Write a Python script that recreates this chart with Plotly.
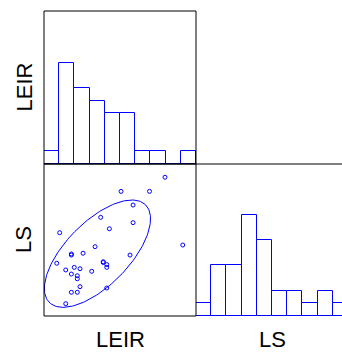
import numpy as np
import plotly.graph_objects as go

# ---- data ----
var_names = ["LEIR", "LS"]
bin_edges = [0, 1, 2, 3, 4, 5, 6, 7, 8, 9, 10]
leir_counts = [1, 8, 6, 5, 4, 4, 1, 1, 0, 1]
ls_counts = [1, 4, 4, 8, 6, 2, 2, 1, 2, 1]

leir = [7.96, 5.07, 6.94, 5.86, 3.73, 5.86, 4.30, 1.03, 9.13, 3.36, 2.57,
        1.80, 1.80, 5.66, 0.84, 3.90, 3.90, 4.13, 4.13, 1.99, 2.37, 1.43,
        3.14, 1.80, 2.19, 2.19, 2.37, 4.13, 1.80, 2.19, 1.43]
ls = [9.13, 8.20, 8.20, 7.30, 6.49, 6.14, 5.74, 5.48, 4.67, 4.56, 4.13,
      4.08, 4.01, 4.01, 3.47, 3.57, 3.52, 3.38, 3.20, 3.20, 3.11, 3.03,
      2.94, 2.76, 2.65, 2.45, 1.93, 1.84, 1.56, 1.56, 0.81]
ellipse_scale = 1.69  # multiples of the covariance (Mahalanobis radius)

BLUE = "#0000ff"
W, H = 342, 352

def px(x):
    return x / W

def py(y):
    return 1 - y / H

# panel geometry (pixels)
L, M, R = 44, 196, 348
T, MID, B = 11, 164, 316

centers = [(bin_edges[i] + bin_edges[i + 1]) / 2 for i in range(len(bin_edges) - 1)]
widths = [bin_edges[i + 1] - bin_edges[i] for i in range(len(bin_edges) - 1)]

fig = go.Figure()

fig.add_trace(go.Bar(x=centers, y=leir_counts, width=widths,
                     marker=dict(color="white", line=dict(color=BLUE, width=1)),
                     xaxis="x", yaxis="y", showlegend=False))

fig.add_trace(go.Scatter(x=leir, y=ls, mode="markers",
                         marker=dict(symbol="circle-open", size=4, color=BLUE,
                                     line=dict(width=1, color=BLUE)),
                         xaxis="x2", yaxis="y2", showlegend=False))

# covariance ellipse from the data
xa = np.array(leir)
ya = np.array(ls)
cov = np.cov(xa, ya)
vals, vecs = np.linalg.eigh(cov)
t = np.linspace(0, 2 * np.pi, 200)
circ = np.vstack([np.cos(t), np.sin(t)])
ell = vecs @ (np.sqrt(vals)[:, None] * circ) * ellipse_scale
fig.add_trace(go.Scatter(x=xa.mean() + ell[0], y=ya.mean() + ell[1], mode="lines",
                         line=dict(color=BLUE, width=1),
                         xaxis="x2", yaxis="y2", showlegend=False))

fig.add_trace(go.Bar(x=centers, y=ls_counts, width=widths,
                     marker=dict(color="white", line=dict(color=BLUE, width=1)),
                     xaxis="x3", yaxis="y3", showlegend=False))

hidden = dict(showgrid=False, zeroline=False, showticklabels=False, ticks="",
              showline=False, fixedrange=True)

vis_frac = (W - M) / (R - M)
fig.update_layout(
    width=W, height=H,
    margin=dict(l=0, r=0, t=0, b=0),
    paper_bgcolor="white", plot_bgcolor="rgba(0,0,0,0)",
    bargap=0,
    xaxis=dict(domain=[px(L), px(M)], range=[0, 10], anchor="y", **hidden),
    yaxis=dict(domain=[py(MID), py(T)], range=[0, 12.1], anchor="x", **hidden),
    xaxis2=dict(domain=[px(L), px(M)], range=[0, 10], anchor="y2", **hidden),
    yaxis2=dict(domain=[py(B), py(MID)], range=[0, 10], anchor="x2", **hidden),
    xaxis3=dict(domain=[px(M), 1], range=[0, 10 * vis_frac], anchor="y3", **hidden),
    yaxis3=dict(domain=[py(B), py(MID)], range=[0, 12], anchor="x3", **hidden),
)

line = dict(color="black", width=1)
shapes = [
    dict(type="rect", xref="paper", yref="paper", x0=px(L), x1=px(M), y0=py(MID), y1=py(T), line=line),
    dict(type="rect", xref="paper", yref="paper", x0=px(L), x1=px(M), y0=py(B), y1=py(MID), line=line),
    dict(type="line", xref="paper", yref="paper", x0=px(M), x1=1, y0=py(MID), y1=py(MID), line=line),
]
fig.update_layout(shapes=shapes)

font = dict(family="Liberation Sans, Arial, sans-serif", size=22, color="black")
ann = [
    dict(text=var_names[0], x=px(24), y=py((T + MID) / 2), textangle=-90),
    dict(text=var_names[1], x=px(24), y=py((MID + B) / 2), textangle=-90),
    dict(text=var_names[0], x=px((L + M) / 2), y=py(339), textangle=0),
    dict(text=var_names[1], x=px((M + R) / 2), y=py(339), textangle=0),
]
for a in ann:
    a.update(xref="paper", yref="paper", showarrow=False, font=font,
             xanchor="center", yanchor="middle")
fig.update_layout(annotations=ann)

fig.write_html("out.html")
